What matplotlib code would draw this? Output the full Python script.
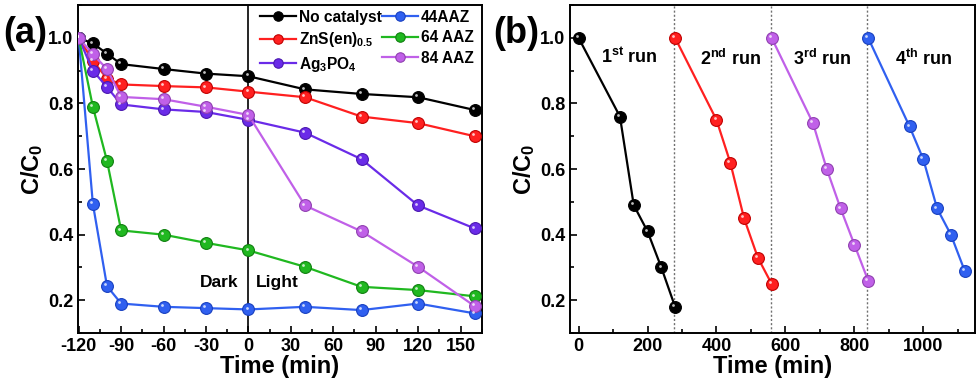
import matplotlib
matplotlib.use("Agg")
import matplotlib.pyplot as plt
from matplotlib.ticker import MultipleLocator, FormatStrFormatter
from matplotlib.transforms import offset_copy

plt.rcParams['font.family'] = ['Liberation Sans', 'DejaVu Sans']
plt.rcParams['font.weight'] = 'bold'
plt.rcParams['axes.unicode_minus'] = False
plt.rcParams['mathtext.fontset'] = 'custom'
plt.rcParams['mathtext.rm'] = 'Liberation Sans:bold'
plt.rcParams['mathtext.it'] = 'Liberation Sans:bold'
plt.rcParams['mathtext.bf'] = 'Liberation Sans:bold'

# ---- Panel (a) data ----
time_a = [-120, -110, -100, -90, -60, -30, 0, 40, 80, 120, 160]
no_catalyst = [1.0, 0.983, 0.952, 0.92, 0.905, 0.891, 0.883, 0.843, 0.829, 0.819, 0.78]
zns_en = [1.0, 0.93, 0.876, 0.858, 0.853, 0.849, 0.836, 0.819, 0.76, 0.74, 0.70]
ag3po4 = [1.0, 0.90, 0.85, 0.797, 0.782, 0.774, 0.75, 0.711, 0.63, 0.489, 0.419]
aaz44 = [1.0, 0.494, 0.243, 0.19, 0.18, 0.176, 0.172, 0.18, 0.17, 0.19, 0.16]
aaz64 = [1.0, 0.79, 0.625, 0.413, 0.40, 0.375, 0.352, 0.302, 0.241, 0.231, 0.212]
aaz84 = [1.0, 0.95, 0.905, 0.82, 0.813, 0.79, 0.765, 0.489, 0.41, 0.302, 0.182]

labels_a = ['No catalyst', r'ZnS(en)$_{0.5}$', r'Ag$_3$PO$_4$', '44AAZ', '64 AAZ', '84 AAZ']
colors_a = ['#000000', '#ff2020', '#6a2be8', '#3060f0', '#20b820', '#c060e8']
edges_a = ['#000000', '#c00000', '#4a18b0', '#1840c0', '#108010', '#9040b0']

# ---- Panel (b) data ----
run1_t = [0, 120, 160, 200, 240, 280]
run1_c = [1.0, 0.76, 0.49, 0.41, 0.30, 0.18]
run2_t = [280, 400, 440, 480, 520, 560]
run2_c = [1.0, 0.75, 0.62, 0.45, 0.33, 0.25]
run3_t = [560, 680, 720, 760, 800, 840]
run3_c = [1.0, 0.74, 0.60, 0.48, 0.37, 0.26]
run4_t = [840, 960, 1000, 1040, 1080, 1120]
run4_c = [1.0, 0.73, 0.63, 0.48, 0.40, 0.29]
run_labels = [r'1$^{\mathrm{st}}$ run', r'2$^{\mathrm{nd}}$ run', r'3$^{\mathrm{rd}}$ run', r'4$^{\mathrm{th}}$ run']
run_label_x = [146, 440, 705, 1002]
run_label_y = [0.942, 0.937, 0.937, 0.937]
colors_b = ['#000000', '#ff2020', '#c060e8', '#3060f0']
edges_b = ['#000000', '#c00000', '#9040b0', '#1840c0']
separators = [277, 557, 837]

fig = plt.figure(figsize=(9.8, 3.9), dpi=100)
ax1 = fig.add_axes([0.0796, 0.146, 0.412, 0.841])
ax2 = fig.add_axes([0.5816, 0.146, 0.4133, 0.841])


def sphere_plot(ax, x, y, color, edge, label=None):
    ax.plot(x, y, '-', color=color, lw=1.6, marker='o', ms=8.5,
            mfc=color, mec=edge, mew=0.8, label=label, zorder=3)
    hl = offset_copy(ax.transData, fig=fig, x=-1.3, y=1.3, units='points')
    ax.plot(x, y, 'o', ms=2.0, mfc='white', mec='none', alpha=0.75,
            transform=hl, zorder=4)


series_a = [no_catalyst, zns_en, ag3po4, aaz44, aaz64, aaz84]
for vals, lab, c, e in zip(series_a, labels_a, colors_a, edges_a):
    sphere_plot(ax1, time_a, vals, c, e, lab)

ax1.axvline(0, color='black', lw=1.2, zorder=2)
ax1.text(-7, 0.253, 'Dark', ha='right', va='center', fontsize=12.5, fontweight='bold')
ax1.text(5, 0.253, 'Light', ha='left', va='center', fontsize=12.5, fontweight='bold')

ax1.set_xlim(-120.5, 165)
ax1.set_ylim(0.1, 1.1)
ax1.xaxis.set_major_locator(MultipleLocator(30))
ax1.xaxis.set_minor_locator(MultipleLocator(15))
ax1.set_yticks([0.2, 0.4, 0.6, 0.8, 1.0])
ax1.yaxis.set_minor_locator(MultipleLocator(0.1))
ax1.set_xlabel('Time (min)', fontsize=17, fontweight='bold', labelpad=0)
ax1.set_ylabel(r'C/C$_0$', fontsize=17, fontweight='bold', labelpad=2)

leg = ax1.legend(ncol=2, loc='upper right', frameon=False, fontsize=11.2,
                 handlelength=2.3, handletextpad=0.2, columnspacing=0.0,
                 labelspacing=0.35, borderaxespad=0.0, markerscale=0.8,
                 bbox_to_anchor=(0.995, 1.005))

runs = [(run1_t, run1_c), (run2_t, run2_c), (run3_t, run3_c), (run4_t, run4_c)]
for (t, c), col, e in zip(runs, colors_b, edges_b):
    sphere_plot(ax2, t, c, col, e)
for s in separators:
    ax2.axvline(s, color='#707070', lw=1.0, ls=(0, (1.5, 1.5)), zorder=1)
for lab, xx, yy in zip(run_labels, run_label_x, run_label_y):
    ax2.text(xx, yy, lab, ha='center', va='center', fontsize=13, fontweight='bold')

ax2.set_xlim(-25, 1150)
ax2.set_ylim(0.1, 1.1)
ax2.xaxis.set_major_locator(MultipleLocator(200))
ax2.xaxis.set_minor_locator(MultipleLocator(100))
ax2.set_yticks([0.2, 0.4, 0.6, 0.8, 1.0])
ax2.yaxis.set_minor_locator(MultipleLocator(0.1))
ax2.set_xlabel('Time (min)', fontsize=17, fontweight='bold', labelpad=0)
ax2.set_ylabel(r'C/C$_0$', fontsize=17, fontweight='bold', labelpad=2)

for ax in (ax1, ax2):
    ax.tick_params(which='both', direction='in', top=False, right=False,
                   labelsize=13, width=1.2)
    ax.tick_params(which='major', length=5)
    ax.tick_params(which='minor', length=3)
    for sp in ax.spines.values():
        sp.set_linewidth(1.4)
    ax.yaxis.set_major_formatter(FormatStrFormatter('%.1f'))
    for lbl in ax.get_xticklabels() + ax.get_yticklabels():
        lbl.set_fontweight('bold')

fig.text(0.003, 0.915, '(a)', fontsize=26, fontweight='bold', ha='left', va='center')
fig.text(0.503, 0.915, '(b)', fontsize=26, fontweight='bold', ha='left', va='center')

fig.savefig('out.png', dpi=100)
